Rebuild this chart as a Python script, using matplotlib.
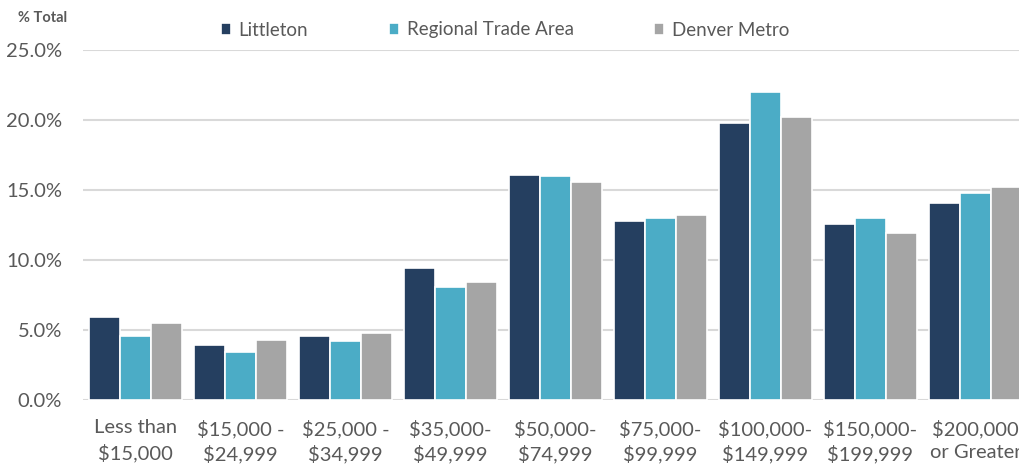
import matplotlib.pyplot as plt
import numpy as np

# Household income distribution, share of households (%)
categories = ["Less than\n$15,000", "$15,000 -\n$24,999", "$25,000 -\n$34,999",
              "$35,000-\n$49,999", "$50,000-\n$74,999", "$75,000-\n$99,999",
              "$100,000-\n$149,999", "$150,000-\n$199,999", "$200,000\nor Greater"]
littleton = [5.9, 3.9, 4.6, 9.4, 16.1, 12.8, 19.8, 12.6, 14.1]
regional = [4.6, 3.4, 4.2, 8.1, 16.0, 13.0, 22.0, 13.0, 14.8]
denver = [5.5, 4.3, 4.8, 8.4, 15.6, 13.2, 20.2, 11.9, 15.2]

series_names = ["Littleton", "Regional Trade Area", "Denver Metro"]
colors = ["#253F60", "#4BACC6", "#A5A5A5"]
text_color = "#595959"

plt.rcParams['font.family'] = ['Lato', 'DejaVu Sans']

fig = plt.figure(figsize=(10.19, 4.66), dpi=100)
# axes extends past the right edge, last group is cut off like the original
ax = fig.add_axes([83 / 1019, 66 / 466, 945 / 1019, 350 / 466])

x = np.arange(len(categories))
w = 0.295
for i, (vals, name, c) in enumerate(zip([littleton, regional, denver], series_names, colors)):
    ax.bar(x + (i - 1) * w, vals, width=w, color=c, edgecolor="white",
           linewidth=1.2, label=name, zorder=3)

ax.set_xlim(-0.5, len(categories) - 0.5)
ax.set_ylim(0, 25)
ax.set_yticks(np.arange(0, 26, 5))
ax.set_yticklabels([f"{v:.1f}%" for v in np.arange(0, 26, 5)])
ax.set_xticks(x)
ax.set_xticklabels(categories, linespacing=1.45)
ax.grid(axis="y", color="#D9D9D9", linewidth=1.5, zorder=0)
for s in ["top", "right", "left", "bottom"]:
    ax.spines[s].set_visible(False)
ax.tick_params(axis="both", length=0, colors=text_color, labelsize=14.5)
ax.tick_params(axis="y", pad=15)
ax.tick_params(axis="x", pad=14)

fig.text(18 / 1019, 1 - 18 / 466, "% Total", fontsize=10.5, fontweight="bold",
         color=text_color, va="center", ha="left")

leg = fig.legend(loc="center", bbox_to_anchor=(505 / 1019, 1 - 30 / 466), ncol=3,
                 frameon=False, fontsize=13.5, handlelength=0.55, handleheight=0.55,
                 handletextpad=0.4, columnspacing=4.3)
for t in leg.get_texts():
    t.set_color(text_color)

fig.savefig("out.png", dpi=100)
